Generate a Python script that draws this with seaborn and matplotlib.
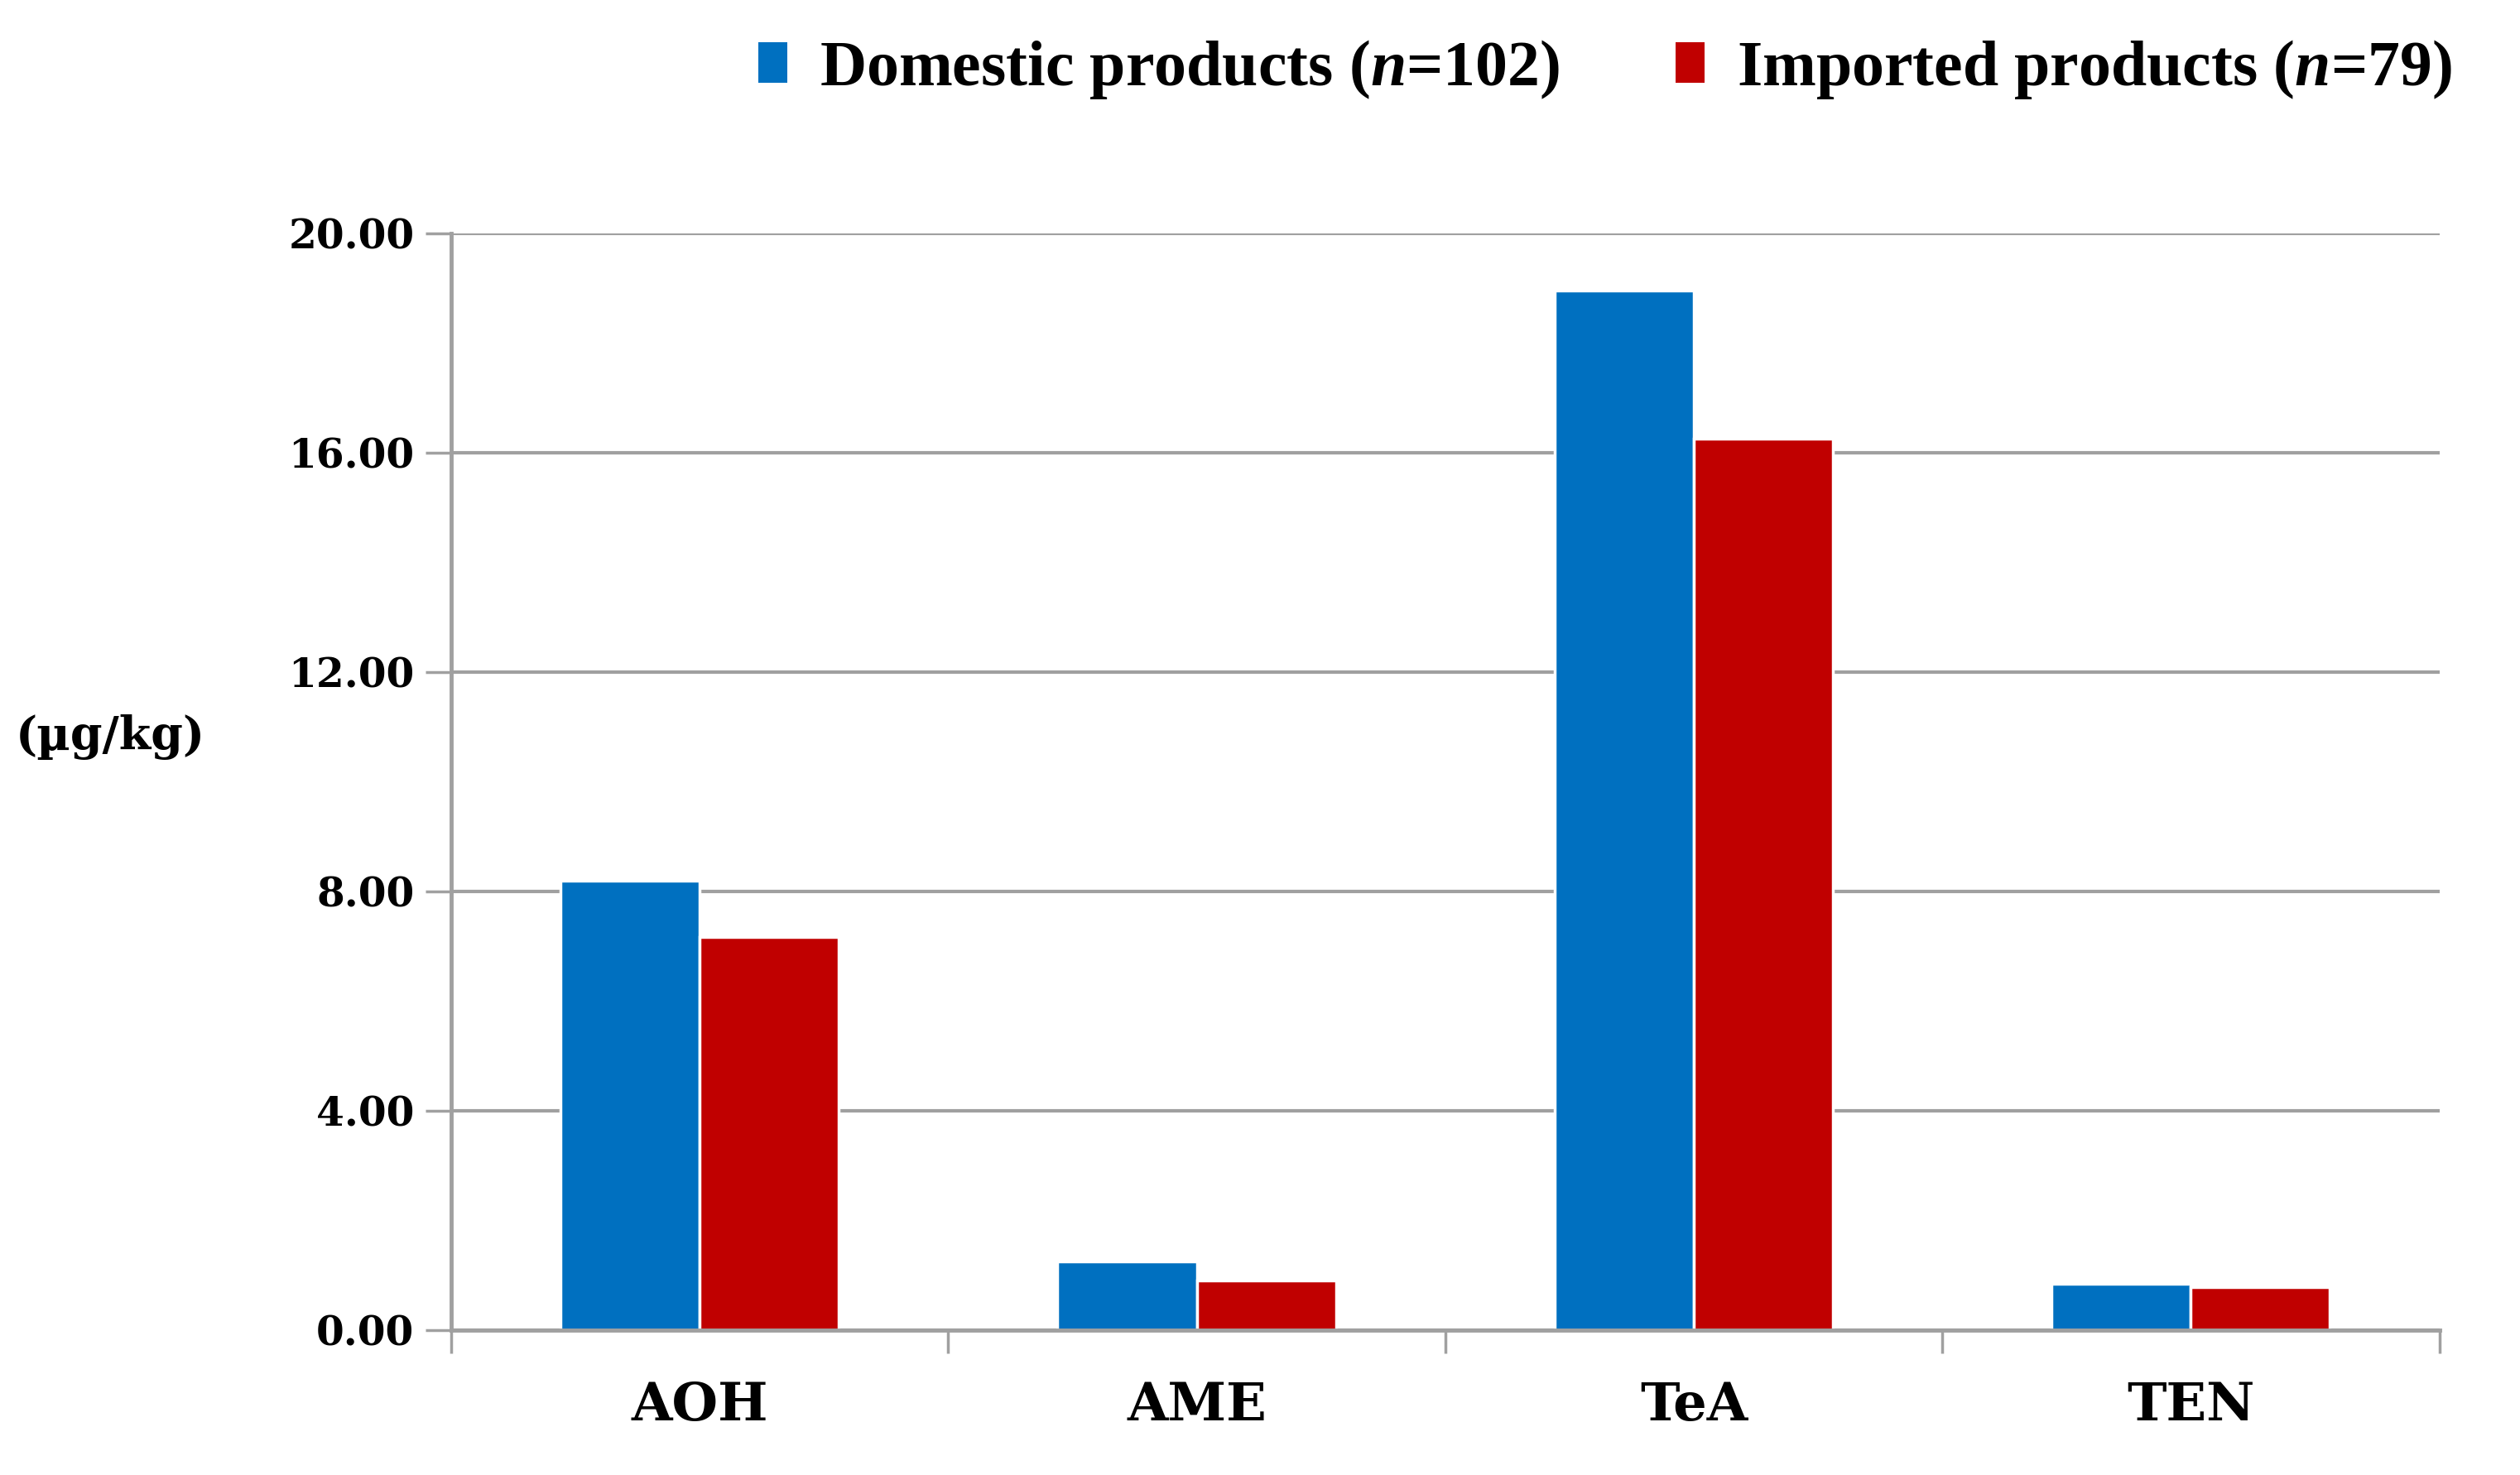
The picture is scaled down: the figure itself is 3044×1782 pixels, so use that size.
import pandas as pd
import seaborn as sns
import matplotlib.pyplot as plt
from matplotlib.patches import Patch

# --------------------------- Data --------------------------- #
toxins = ["AOH", "AME", "TeA", "TEN"]
domestic = [8.20, 1.26, 18.95, 0.85]
imported = [7.17, 0.91, 16.25, 0.79]
groups = ["Domestic products", "Imported products"]
group_n = [102, 79]
colors = ["#0070C0", "#C00000"]

df = pd.DataFrame({
    "toxin": toxins * 2,
    "value": domestic + imported,
    "group": [groups[0]] * len(toxins) + [groups[1]] * len(toxins),
})

# --------------------------- Plot --------------------------- #
sns.set_style("white")
plt.rcParams["mathtext.fontset"] = "custom"
plt.rcParams["mathtext.it"] = "Liberation Serif:italic:bold"
plt.rcParams["text.color"] = "black"
plt.rcParams["xtick.color"] = "black"
plt.rcParams["ytick.color"] = "black"

fig = plt.figure(figsize=(30.44, 17.82), dpi=100)
ax = fig.add_axes([0.179, 0.098, 0.789, 0.744])

sns.barplot(data=df, x="toxin", y="value", hue="group", order=toxins,
            hue_order=groups, palette=colors, saturation=1, width=0.56, ax=ax,
            edgecolor="white", linewidth=2.5, legend=False, errorbar=None)

ax.set_ylim(0, 20)
ax.set_xlim(-0.5, 3.5)
ax.set_yticks([0, 4, 8, 12, 16, 20])
ax.set_yticklabels([f"{v:.2f}" for v in [0, 4, 8, 12, 16, 20]],
                   fontfamily="DejaVu Serif", fontweight="bold", fontsize=35)
ax.set_xticks(range(len(toxins)))
ax.set_xticklabels(toxins, fontfamily="DejaVu Serif", fontweight="bold", fontsize=46)
ax.set_xticks([-0.5, 0.5, 1.5, 2.5, 3.5], minor=True)
ax.tick_params(axis="x", which="major", length=0, pad=44, labelcolor="black")
ax.tick_params(axis="x", which="minor", bottom=True, length=20, width=2.5,
               color="#a0a0a0", direction="out")
ax.tick_params(axis="y", left=True, length=22, width=2.5, color="#a0a0a0",
               direction="out", pad=10, labelcolor="black")

ax.yaxis.grid(True, color="#a0a0a0", linewidth=3)
ax.set_axisbelow(True)
for side in ["top", "right"]:
    ax.spines[side].set_visible(False)
for side in ["left", "bottom"]:
    ax.spines[side].set_color("#a0a0a0")
    ax.spines[side].set_linewidth(3.5)

ax.set_xlabel("")
ax.set_ylabel("")
fig.text(0.006, 0.5, "(µg/kg)", fontfamily="DejaVu Serif", fontweight="bold",
         fontsize=40, ha="left", va="center", color="black")

# ------------------------- Legend --------------------------- #
handles = [Patch(facecolor=c, edgecolor="none") for c in colors]
labels = [f"{g} ($\\mathit{{n}}$=" + f"{n})" for g, n in zip(groups, group_n)]
leg = fig.legend(handles, labels, loc="center", bbox_to_anchor=(0.637, 0.953),
                 ncol=2, frameon=False, labelcolor="black",
                 prop={"family": "Liberation Serif", "weight": "bold", "size": 56},
                 handlelength=0.45, handleheight=0.6, handletextpad=0.5, columnspacing=1.8)

plt.savefig("out.png", dpi=100)
